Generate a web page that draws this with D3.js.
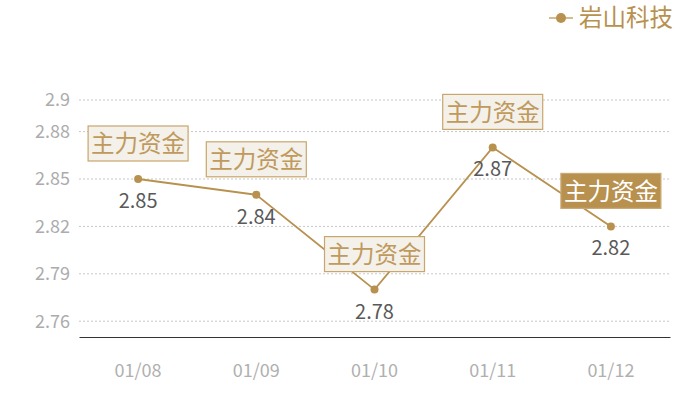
<!DOCTYPE html>
<html>
<head>
<meta charset="utf-8">
<script src="https://cdn.jsdelivr.net/npm/d3@7"></script>
<style>
body { margin: 0; background: #fff; }
svg text { font-family: "Noto Sans CJK SC", "Noto Sans", sans-serif; }
</style>
</head>
<body>
<div id="chart"></div>
<script>
// data
var dates = ['01/08', '01/09', '01/10', '01/11', '01/12'];
var prices = [2.85, 2.84, 2.78, 2.87, 2.82];
var yTicks = [2.76, 2.79, 2.82, 2.85, 2.88, 2.9];
var seriesName = '岩山科技';
var tagText = '主力资金';

var width = 700, height = 400;
var margin = { top: 100, right: 30, bottom: 63, left: 79 };
var gold = '#b8914f';

var svg = d3.select('#chart').append('svg')
	.attr('width', width)
	.attr('height', height);

var x = d3.scaleBand()
	.domain(dates)
	.range([margin.left, width - margin.right]);

var y = d3.scaleLinear()
	.domain([2.75, 2.9])
	.range([height - margin.bottom, margin.top]);

// grid lines
svg.append('g').selectAll('line')
	.data(yTicks)
	.enter().append('line')
		.attr('x1', margin.left)
		.attr('x2', width - margin.right)
		.attr('y1', function(d) { return y(d); })
		.attr('y2', function(d) { return y(d); })
		.attr('stroke', '#c8c8c8')
		.attr('stroke-dasharray', '2,2');

// y tick labels
svg.append('g').selectAll('text')
	.data(yTicks)
	.enter().append('text')
		.attr('x', margin.left - 9)
		.attr('y', function(d) { return y(d); })
		.attr('dy', '.35em')
		.attr('text-anchor', 'end')
		.attr('font-size', 18)
		.attr('fill', '#acacac')
		.text(function(d) { return d; });

// x axis
var xAxis = svg.append('g')
	.attr('transform', 'translate(0,' + (height - margin.bottom) + ')')
	.call(d3.axisBottom(x).tickSize(0).tickPadding(27));
xAxis.select('.domain').attr('stroke', '#333').attr('stroke-width', 1.2);
xAxis.selectAll('text')
	.attr('font-size', 18)
	.attr('fill', '#b0b0b0')
	.attr('font-family', '"Noto Sans CJK SC", sans-serif');

var cx = function(d, i) { return x(dates[i]) + x.bandwidth() / 2; };

// the line
var line = d3.line()
	.x(function(d, i) { return cx(d, i); })
	.y(function(d) { return y(d); });

svg.append('path')
	.datum(prices)
	.attr('d', line)
	.attr('fill', 'none')
	.attr('stroke', gold)
	.attr('stroke-width', 1.8);

svg.append('g').selectAll('circle')
	.data(prices)
	.enter().append('circle')
		.attr('cx', cx)
		.attr('cy', function(d) { return y(d); })
		.attr('r', 4)
		.attr('fill', gold);

// value labels
svg.append('g').selectAll('text')
	.data(prices)
	.enter().append('text')
		.attr('x', cx)
		.attr('y', function(d) { return y(d) + 22; })
		.attr('dy', '.35em')
		.attr('text-anchor', 'middle')
		.attr('font-size', 20)
		.attr('fill', '#595959')
		.text(function(d) { return d.toFixed(2); });

// tags above the points
var tags = svg.append('g').selectAll('g')
	.data(prices)
	.enter().append('g')
		.attr('transform', function(d, i) { return 'translate(' + cx(d, i) + ',' + (y(d) - 35) + ')'; });

tags.append('rect')
	.attr('x', -50)
	.attr('y', -18)
	.attr('width', 100)
	.attr('height', 35)
	.attr('fill', function(d, i) { return i == prices.length - 1 ? gold : '#f4f0ea'; })
	.attr('stroke', function(d, i) { return i == prices.length - 1 ? '#c9aa75' : '#c9a66b'; })
	.attr('stroke-width', 1.2);

tags.append('text')
	.attr('text-anchor', 'middle')
	.attr('dy', '.36em')
	.attr('font-size', 23.5)
	.attr('fill', function(d, i) { return i == prices.length - 1 ? '#fff' : '#bf9a5c'; })
	.text(tagText);

// legend
var legend = svg.append('g').attr('transform', 'translate(549,18)');
legend.append('line')
	.attr('x1', 0).attr('x2', 24)
	.attr('stroke', '#d4bb90')
	.attr('stroke-width', 2);
legend.append('circle')
	.attr('cx', 12)
	.attr('r', 5)
	.attr('fill', gold);
legend.append('text')
	.attr('x', 30)
	.attr('dy', '.36em')
	.attr('font-size', 23.5)
	.attr('fill', gold)
	.text(seriesName);
</script>
</body>
</html>
